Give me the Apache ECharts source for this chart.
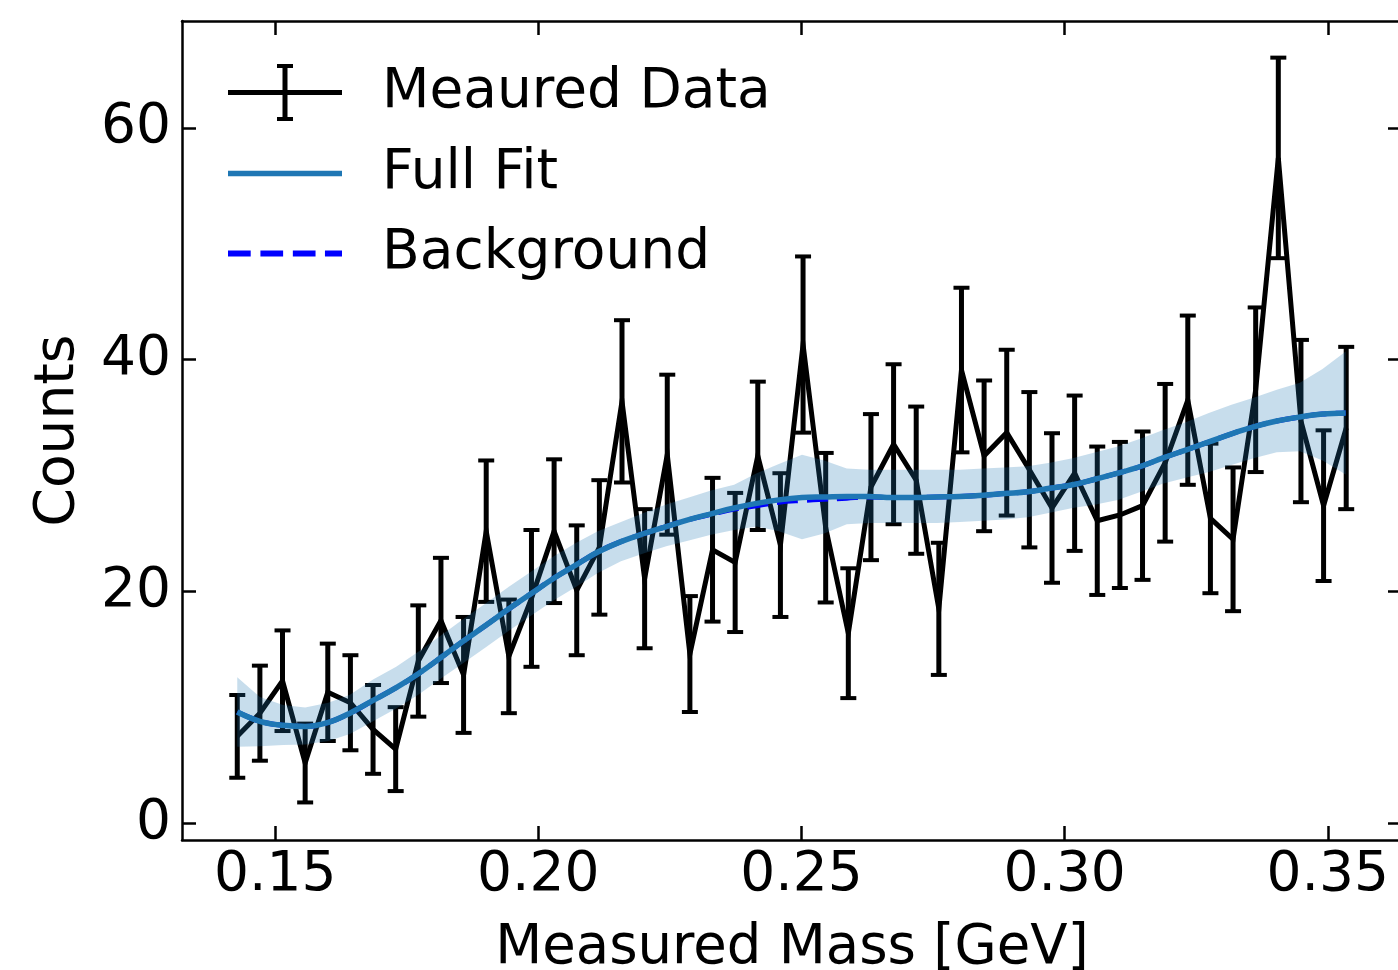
<!DOCTYPE html>
<html><head><meta charset="utf-8">
<script src="https://cdn.jsdelivr.net/npm/echarts@6.0.0/dist/echarts.min.js"></script>
<style>html,body{margin:0;padding:0;background:#fff}#c{width:1398px;height:970px}</style>
</head><body><div id="c"></div><script>
// ---- data ----
const massBins = [0.1428,0.1471,0.1514,0.1557,0.1600,0.1643,0.1686,0.1729,0.1772,0.1815,
  0.1858,0.1901,0.1944,0.1987,0.2030,0.2073,0.2116,0.2159,0.2202,0.2245,
  0.2288,0.2331,0.2374,0.2417,0.2460,0.2503,0.2546,0.2589,0.2632,0.2675,
  0.2718,0.2761,0.2804,0.2847,0.2890,0.2933,0.2976,0.3019,0.3062,0.3105,
  0.3148,0.3191,0.3234,0.3277,0.3320,0.3363,0.3406,0.3449,0.3492,0.3535];
const counts = [7.5,9.5,12.3,5.2,11.3,10.4,8.1,6.4,14.0,17.5,
  12.8,25.2,14.4,19.4,25.2,20.1,23.8,36.4,21.1,31.8,
  14.6,23.6,22.5,31.7,24.0,41.3,25.5,16.4,29.0,32.7,
  29.6,18.5,39.1,31.7,33.7,30.5,27.2,30.2,26.1,26.6,
  27.4,31.1,36.5,26.3,24.5,37.4,57.4,34.7,27.4,34.1];
const countErrors = [3.57,4.1,4.34,3.4,4.2,4.1,3.83,3.62,4.8,5.4,
  5.0,6.1,4.9,5.9,6.2,5.6,5.8,7.0,6.0,6.9,
  5.0,6.2,6.0,6.4,6.2,7.6,6.45,5.6,6.3,6.9,
  6.35,5.7,7.1,6.5,7.15,6.7,6.45,6.7,6.4,6.3,
  6.4,6.8,7.3,6.45,6.2,7.1,8.65,7.0,6.5,7.0];
const fitMass = [0.1428,0.1471,0.1515,0.1557,0.1601,0.1642,0.1686,0.1730,0.1772,0.1815,
  0.1857,0.1901,0.1944,0.1986,0.2028,0.2072,0.2113,0.2157,0.2201,0.2243,
  0.2286,0.2328,0.2372,0.2415,0.2457,0.2501,0.2543,0.2586,0.2628,0.2672,
  0.2715,0.2757,0.2801,0.2845,0.2886,0.2930,0.2972,0.3015,0.3059,0.3101,
  0.3145,0.3186,0.3230,0.3274,0.3317,0.3359,0.3403,0.3447,0.3490,0.3534];
const fullFit = [9.6,8.8,8.45,8.35,8.7,9.5,10.6,11.7,12.9,14.3,
  15.7,17.1,18.5,19.8,21.1,22.3,23.4,24.3,25.0,25.6,
  26.2,26.7,27.2,27.6,27.9,28.1,28.15,28.2,28.2,28.1,
  28.1,28.15,28.2,28.3,28.45,28.6,28.9,29.2,29.7,30.2,
  30.8,31.5,32.2,32.9,33.6,34.2,34.7,35.05,35.3,35.4];
const backgroundFit = [9.6,8.8,8.45,8.35,8.7,9.5,10.6,11.7,12.9,14.3,
  15.7,17.1,18.5,19.8,21.1,22.3,23.4,24.3,25.0,25.6,
  26.2,26.65,27.1,27.4,27.7,27.85,27.95,28.05,28.15,28.1,
  28.1,28.15,28.2,28.3,28.45,28.6,28.9,29.2,29.7,30.2,
  30.8,31.5,32.2,32.9,33.6,34.2,34.7,35.05,35.3,35.4];
const fitBandLow = [6.6,6.65,6.75,6.8,7.1,7.7,8.8,9.9,11.1,12.5,
  13.8,15.2,16.6,17.9,19.2,20.4,21.6,22.6,23.3,23.9,
  24.4,24.9,25.3,25.6,25.2,24.5,25.0,25.8,25.9,25.9,
  25.9,25.9,26.0,26.1,26.2,26.4,26.8,27.2,27.5,27.9,
  28.6,29.3,29.8,30.3,30.9,31.5,32.0,32.1,31.3,30.1];
const fitBandHigh = [12.6,10.9,10.2,10.0,10.4,11.1,12.4,13.5,14.8,16.2,
  17.6,19.0,20.4,21.7,23.0,24.2,25.2,26.0,26.8,27.5,
  28.1,28.7,29.2,30.2,31.0,31.8,31.3,30.6,30.5,30.5,
  30.5,30.5,30.5,30.6,30.7,30.8,31.1,31.5,32.0,32.5,
  33.2,33.9,34.6,35.4,36.1,36.7,37.4,38.0,39.2,40.7];
const xTicks = [0.15,0.20,0.25,0.30,0.35];
const yTicks = [0,20,40,60];
const legendNames = ['Meaured Data','Full Fit','Background'];

// ---- chart ----
const FONT = "'DejaVu Sans', sans-serif";
const spine = {color:'#000', width:2.5};
const XMIN = 0.1323, XMAX = 0.3641, YMIN = -1.44, YMAX = 69.21;

function xAxisDef(pos, labels){
  return {type:'value', position:pos, min:XMIN, max:XMAX,
    axisLine:{show:true,onZero:false,lineStyle:spine},
    axisTick:{show:true,inside:true,length:14,lineStyle:spine,customValues:xTicks},
    axisLabel:{show:labels,customValues:xTicks,formatter:v=>Number(v).toFixed(2),
      fontSize:55,fontFamily:FONT,color:'#000',margin:8},
    splitLine:{show:false},
    name: labels ? 'Measured Mass [GeV]' : '', nameLocation:'middle', nameGap:81,
    nameTextStyle:{fontSize:54.5,fontFamily:FONT,color:'#000'}};
}
function yAxisDef(pos, labels){
  return {type:'value', position:pos, min:YMIN, max:YMAX,
    axisLine:{show:true,onZero:false,lineStyle:spine},
    axisTick:{show:true,inside:true,length:14,lineStyle:spine,customValues:yTicks},
    axisLabel:{show:labels,customValues:yTicks,formatter:v=>String(Math.round(v)),
      fontSize:55,fontFamily:FONT,color:'#000',margin:11},
    splitLine:{show:false},
    name: labels ? 'Counts' : '', nameLocation:'middle', nameGap:96, nameRotate:90,
    nameTextStyle:{fontSize:55,fontFamily:FONT,color:'#000'}};
}

const errData = massBins.map((x,i)=>[x, counts[i]-countErrors[i], counts[i]+countErrors[i]]);
const lineData = massBins.map((x,i)=>[x, counts[i]]);
const fitData = fitMass.map((x,i)=>[x, fullFit[i]]);
const bkgData = fitMass.map((x,i)=>[x, backgroundFit[i]]);

const chart = echarts.init(document.getElementById('c'), null, {renderer:'canvas'});
chart.setOption({
  animation:false,
  backgroundColor:'#fff',
  textStyle:{fontFamily:FONT},
  grid:{left:182, top:21, width:1220, height:819, containLabel:false, outerBoundsMode:'none'},
  xAxis:[xAxisDef('bottom',true), xAxisDef('top',false)],
  yAxis:[yAxisDef('left',true), yAxisDef('right',false)],
  legend:{show:true, orient:'vertical', left:228, top:64, padding:0,
    itemWidth:114, itemHeight:57, itemGap:25, selectedMode:false,
    textStyle:{fontSize:55,fontFamily:FONT,color:'#000',padding:[6,0,0,35]},
    data:[
      {name:legendNames[0], icon:'path://M0,26H114V31H0Z M54.5,0H59.5V57H54.5Z M49,0H65V4H49Z M49,53H65V57H49Z',
        itemStyle:{color:'#000',borderWidth:0}},
      {name:legendNames[1], icon:'path://M0,0H114V5.5H0Z', itemStyle:{color:'#1f77b4',borderWidth:0}},
      {name:legendNames[2], icon:'path://M2.7,0H24.4V5.5H2.7Z M33.7,0H55.4V5.5H33.7Z M64.7,0H86.4V5.5H64.7Z M95.4,0H111.7V5.5H95.4Z',
        itemStyle:{color:'#0000ff',borderWidth:0}}
    ]},
  series:[
    {type:'custom', name:legendNames[0], z:2, silent:true, data:errData, encode:{x:0,y:[1,2]},
      itemStyle:{color:'#000'},
      renderItem:(params, api)=>{
        const x = api.value(0);
        const lo = api.coord([x, api.value(1)]);
        const hi = api.coord([x, api.value(2)]);
        const hw = 8;
        return {type:'group', children:[
          {type:'line', shape:{x1:lo[0],y1:lo[1],x2:hi[0],y2:hi[1]}, style:{stroke:'#000',lineWidth:5}},
          {type:'line', shape:{x1:lo[0]-hw,y1:lo[1],x2:lo[0]+hw,y2:lo[1]}, style:{stroke:'#000',lineWidth:4}},
          {type:'line', shape:{x1:hi[0]-hw,y1:hi[1],x2:hi[0]+hw,y2:hi[1]}, style:{stroke:'#000',lineWidth:4}}
        ]};
      }},
    {type:'line', name:legendNames[0], z:3, silent:true, data:lineData, symbol:'none', showSymbol:false,
      itemStyle:{color:'#000'}, lineStyle:{color:'#000',width:5,join:'miter',miterLimit:10}},
    {type:'custom', name:'band', z:4, silent:true, data:[[fitMass[0], fitBandLow[0]]], encode:{x:0,y:1},
      renderItem:(params, api)=>{
        const pts = [];
        for (let i=0;i<fitMass.length;i++) pts.push(api.coord([fitMass[i], fitBandHigh[i]]));
        for (let i=fitMass.length-1;i>=0;i--) pts.push(api.coord([fitMass[i], fitBandLow[i]]));
        return {type:'polygon', shape:{points:pts}, style:{fill:'rgba(31,119,180,0.25)'}};
      }},
    {type:'line', name:legendNames[2], z:5, silent:true, data:bkgData, symbol:'none', showSymbol:false, smooth:0.4,
      itemStyle:{color:'#0000ff'}, lineStyle:{color:'#0000ff',width:5,type:[21,9]}},
    {type:'line', name:legendNames[1], z:6, silent:true, data:fitData, symbol:'none', showSymbol:false, smooth:0.4,
      itemStyle:{color:'#1f77b4'}, lineStyle:{color:'#1f77b4',width:5.5}}
  ]
});
</script></body></html>
